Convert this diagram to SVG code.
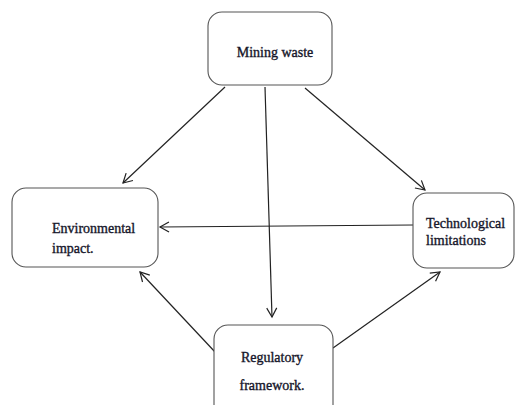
<svg xmlns="http://www.w3.org/2000/svg" width="517" height="405" viewBox="0 0 517 405">
<defs>
<marker id="ah" markerWidth="12" markerHeight="12" refX="10" refY="6" orient="auto" markerUnits="userSpaceOnUse">
<path d="M1,1 L10,6 L1,11" fill="none" stroke="#222" stroke-width="1.2"/>
</marker>
<style>
.box{fill:#fff;stroke:#555;stroke-width:1.1}
.t{font-family:"Liberation Serif","Times New Roman",serif;font-size:14px;fill:#16162a;stroke:#16162a;stroke-width:0.35}
.c{stroke:#222;stroke-width:1.2;fill:none;marker-end:url(#ah)}
</style>
</defs>
<rect width="517" height="405" fill="#fff"/>
<g id="connectors">
<line class="c" x1="225" y1="87" x2="123" y2="183"/>
<line class="c" x1="305" y1="88" x2="425" y2="190"/>
<line class="c" x1="265" y1="87" x2="272" y2="317"/>
<line class="c" x1="413" y1="225" x2="160" y2="227"/>
<line class="c" x1="216" y1="353" x2="140" y2="272"/>
<line class="c" x1="333" y1="348" x2="440" y2="272"/>
</g>
<g id="mining">
<rect class="box" x="208" y="12" width="124" height="73" rx="14"/>
<text class="t" x="275" y="57" text-anchor="middle">Mining waste</text>
</g>
<g id="environmental">
<rect class="box" x="12" y="188" width="146" height="79" rx="14"/>
<text class="t" x="52" y="233">Environmental</text>
<text class="t" x="52" y="253">impact.</text>
</g>
<g id="technological">
<rect class="box" x="413" y="193" width="101" height="75" rx="14"/>
<text class="t" x="426" y="228">Technological</text>
<text class="t" x="426" y="245">limitations</text>
</g>
<g id="regulatory">
<rect class="box" x="214" y="325" width="119" height="95" rx="14"/>
<text class="t" x="272" y="362" text-anchor="middle">Regulatory</text>
<text class="t" x="272" y="390" text-anchor="middle">framework.</text>
</g>
</svg>
